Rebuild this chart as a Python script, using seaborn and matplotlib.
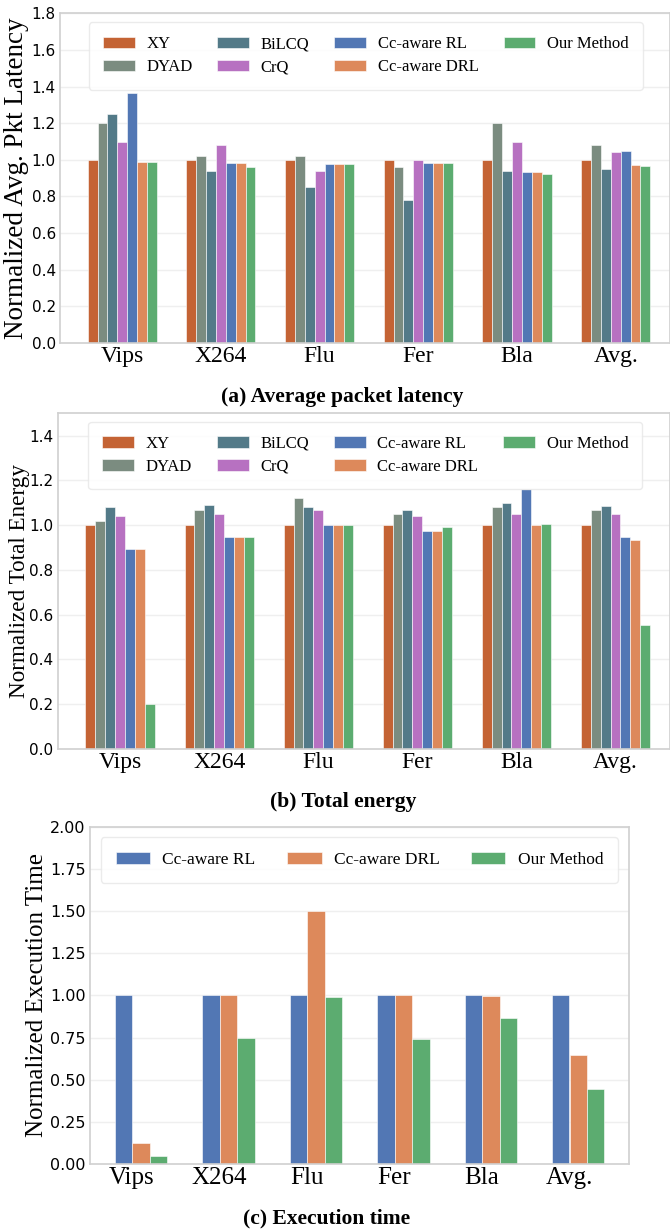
import numpy as np
import pandas as pd
import matplotlib
matplotlib.use("Agg")
import matplotlib.pyplot as plt
import seaborn as sns

# ---------------- data ----------------
benchmarks = ["Vips", "X264", "Flu", "Fer", "Bla", "Avg."]
methods = ["XY", "DYAD", "BiLCQ", "CrQ", "Cc-aware RL", "Cc-aware DRL", "Our Method"]

lat_xy    = [1.00, 1.00, 1.00, 1.00, 1.00, 1.00]
lat_dyad  = [1.20, 1.02, 1.02, 0.96, 1.20, 1.08]
lat_bilcq = [1.25, 0.94, 0.85, 0.78, 0.94, 0.952]
lat_crq   = [1.10, 1.08, 0.94, 1.00, 1.10, 1.045]
lat_rl    = [1.365, 0.983, 0.978, 0.982, 0.935, 1.047]
lat_drl   = [0.987, 0.983, 0.978, 0.982, 0.935, 0.973]
lat_our   = [0.987, 0.962, 0.978, 0.982, 0.925, 0.966]

en_xy    = [1.00, 1.00, 1.00, 1.00, 1.00, 1.00]
en_dyad  = [1.02, 1.07, 1.12, 1.05, 1.08, 1.068]
en_bilcq = [1.08, 1.09, 1.08, 1.07, 1.10, 1.084]
en_crq   = [1.04, 1.05, 1.07, 1.04, 1.05, 1.05]
en_rl    = [0.893, 0.946, 1.00, 0.972, 1.16, 0.948]
en_drl   = [0.893, 0.946, 1.00, 0.972, 1.00, 0.932]
en_our   = [0.203, 0.946, 1.00, 0.99, 1.005, 0.553]

ex_methods = ["Cc-aware RL", "Cc-aware DRL", "Our Method"]
ex_rl  = [1.00, 1.00, 1.00, 1.00, 1.00, 1.00]
ex_drl = [0.125, 1.00, 1.50, 1.00, 0.995, 0.645]
ex_our = [0.045, 0.748, 0.992, 0.74, 0.865, 0.445]

colors = {
    "XY": "#c46334",
    "DYAD": "#7b8c80",
    "BiLCQ": "#537a88",
    "CrQ": "#b771c1",
    "Cc-aware RL": "#5277b4",
    "Cc-aware DRL": "#dd895b",
    "Our Method": "#5cac70",
}


def long_df(series, names):
    rows = []
    for name, vals in zip(names, series):
        for b, v in zip(benchmarks, vals):
            rows.append({"bench": b, "method": name, "value": v})
    return pd.DataFrame(rows)


df_lat = long_df([lat_xy, lat_dyad, lat_bilcq, lat_crq, lat_rl, lat_drl, lat_our], methods)
df_en = long_df([en_xy, en_dyad, en_bilcq, en_crq, en_rl, en_drl, en_our], methods)
df_ex = long_df([ex_rl, ex_drl, ex_our], ex_methods)

# ---------------- style ----------------
sns.set_style("whitegrid", {
    "axes.edgecolor": "#d0d0d0",
    "grid.color": "#efefef",
})
plt.rcParams["font.family"] = ["Liberation Serif", "DejaVu Serif"]
plt.rcParams["axes.linewidth"] = 1.2
for k in ["text.color", "axes.labelcolor", "xtick.color", "ytick.color"]:
    plt.rcParams[k] = "black"

W, H = 670, 1232
fig = plt.figure(figsize=(W / 100, H / 100), dpi=100)


def px_axes(left, top, right, bottom):
    return fig.add_axes([left / W, 1 - bottom / H, (right - left) / W, (bottom - top) / H])


def style_axes(ax, yticks, ylim, xlim, ytick_size, xtick_size, fmt):
    ax.set_ylim(*ylim)
    ax.set_xlim(*xlim)
    ax.set_yticks(yticks)
    ax.set_yticklabels([fmt.format(t) for t in yticks], family="DejaVu Sans",
                       fontsize=ytick_size, color="black")
    for lab in ax.get_xticklabels():
        lab.set_fontsize(xtick_size)
        lab.set_family("Liberation Serif")
        lab.set_color("black")
    ax.tick_params(axis="both", length=0)
    ax.tick_params(axis="y", pad=3)
    ax.tick_params(axis="x", pad=2)
    ax.xaxis.grid(False)
    ax.yaxis.grid(True, linewidth=1.0)
    ax.set_xlabel("")
    for s in ax.spines.values():
        s.set_visible(True)
        s.set_color("#d0d0d0")


leg_common = dict(loc="upper left", title=None, frameon=True, handleheight=0.7,
                  handletextpad=0.7, borderaxespad=0.0, edgecolor="#e8e8e8",
                  framealpha=0.85)

# ---------------- panel (a) ----------------
ax1 = px_axes(60, 13.3, 670, 343)
sns.barplot(data=df_lat, x="bench", y="value", hue="method", palette=colors,
            width=0.7, saturation=1, edgecolor="white", linewidth=0.4, ax=ax1)
style_axes(ax1, np.arange(0, 1.81, 0.2), (0, 1.8), (-0.63, 5.55), 11, 17, "{:.1f}")
ax1.set_ylabel("Normalized Avg. Pkt Latency", fontsize=19.5)
ax1.yaxis.set_label_coords(-0.05, 0.5)
sns.move_legend(ax1, bbox_to_anchor=(0.047, 0.973), ncol=4, fontsize=12,
                handlelength=1.9, columnspacing=1.5, labelspacing=0.42, borderpad=0.85,
                **leg_common)

# ---------------- panel (b) ----------------
ax2 = px_axes(57.7, 413.3, 670, 749)
sns.barplot(data=df_en, x="bench", y="value", hue="method", palette=colors,
            width=0.7, saturation=1, edgecolor="white", linewidth=0.4, ax=ax2)
style_axes(ax2, np.arange(0, 1.41, 0.2), (0, 1.5), (-0.63, 5.55), 11, 17, "{:.1f}")
ax2.set_ylabel("Normalized Total Energy", fontsize=16.7)
ax2.yaxis.set_label_coords(-0.046, 0.5)
sns.move_legend(ax2, bbox_to_anchor=(0.05, 0.975), ncol=4, fontsize=12,
                handlelength=1.9, columnspacing=1.5, labelspacing=0.42, borderpad=0.85,
                **leg_common)

# ---------------- panel (c) ----------------
ax3 = px_axes(90, 826.7, 629, 1164)
ex_colors = {m: colors[m] for m in ex_methods}
sns.barplot(data=df_ex, x="bench", y="value", hue="method", palette=ex_colors,
            width=0.6, saturation=1, edgecolor="white", linewidth=0.4, ax=ax3)
ax3.set_xticks(np.arange(len(benchmarks)) - 0.1)
ax3.set_xticklabels(benchmarks)
style_axes(ax3, np.arange(0, 2.01, 0.25), (0, 2.0), (-0.58, 5.58), 11.5, 18, "{:.2f}")
ax3.set_ylabel("Normalized Execution Time", fontsize=18)
ax3.yaxis.set_label_coords(-0.078, 0.5)
sns.move_legend(ax3, bbox_to_anchor=(0.02, 0.969), ncol=3, fontsize=12.5,
                handlelength=2.0, columnspacing=1.8, labelspacing=0.35, borderpad=0.85,
                **leg_common)

# ---------------- captions ----------------
cap_kw = dict(ha="center", va="center", fontsize=15.5, fontweight="bold",
              family="Liberation Serif")
fig.text(342 / W, 1 - 397 / H, "(a) Average packet latency", **cap_kw)
fig.text(343 / W, 1 - 802 / H, "(b) Total energy", **cap_kw)
fig.text(327 / W, 1 - 1218 / H, "(c) Execution time", **cap_kw)

fig.savefig("out.png", dpi=100)
